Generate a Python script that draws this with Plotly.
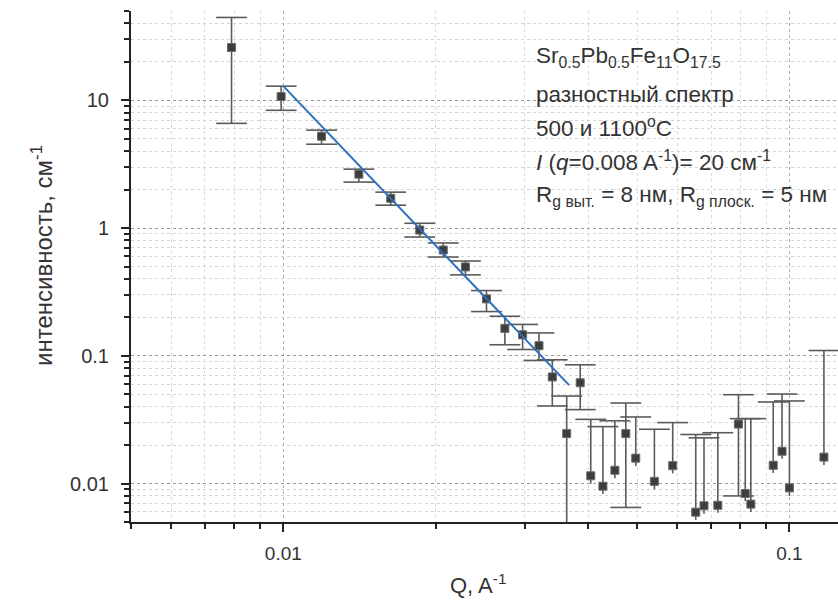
import plotly.graph_objects as go

# SANS data: scattering vector q (1/A), intensity (1/cm), error-bar bounds
q = [0.0079, 0.0099, 0.0119, 0.0141, 0.0163, 0.0186, 0.0207, 0.0229,
     0.0252, 0.0274, 0.0297, 0.0320, 0.0340, 0.0363, 0.0386, 0.0405,
     0.0428, 0.0452, 0.0475, 0.0497, 0.0541, 0.0588, 0.0653, 0.0678,
     0.0722, 0.0793, 0.0818, 0.0839, 0.0929, 0.0967, 0.1000, 0.1170]
intensity = [25.9, 10.7, 5.23, 2.64, 1.71, 0.965, 0.673, 0.496,
             0.279, 0.164, 0.146, 0.120, 0.0683, 0.0246, 0.0615, 0.0115,
             0.00953, 0.0127, 0.0246, 0.0158, 0.0104, 0.0138, 0.00597, 0.0067,
             0.00676, 0.0292, 0.00836, 0.0069, 0.0139, 0.0179, 0.00925, 0.0161]
upper = [44.5, 12.9, 5.84, 2.89, 1.91, 1.09, 0.764, 0.552,
         0.324, 0.204, 0.176, 0.151, 0.093, 0.0484, 0.085, 0.0318,
         0.0279, 0.031, 0.0427, 0.0332, 0.0266, 0.030, 0.0242, 0.0228,
         0.025, 0.0496, 0.0322, 0.0322, 0.0435, 0.0502, 0.0443, 0.110]
# lower bounds; 0 means the bar runs off the bottom of the log axis
lower = [6.6, 8.35, 4.53, 2.29, 1.51, 0.85, 0.593, 0.43,
         0.222, 0.122, 0.112, 0.092, 0.0405, 0.0, 0.0379, 0.0100,
         0.0083, 0.0110, 0.0065, 0.0137, 0.0090, 0.0120, 0.0052, 0.0058,
         0.0059, 0.0080, 0.0073, 0.0060, 0.0121, 0.0156, 0.0080, 0.0140]
# which lower bounds carry a cap
lower_cap = [True] * 13 + [False, True, False, False, False, True] + [False] * 6 + [True] + [False] * 6

# power-law fit segment
q_fit = [0.0100, 0.0367]
i_fit = [12.9, 0.059]

W, H = 838, 603
ML, MR, MT, MB = 131, 0, 11, 81


def px(x):
    return (x - ML) / (W - ML - MR)


def py(y):
    return (H - MB - y) / (H - MT - MB)


err_plus = [u - v for u, v in zip(upper, intensity)]
err_minus = [v - l for v, l in zip(intensity, lower)]

fig = go.Figure()

# error-bar caps
fig.add_trace(go.Scatter(
    x=q + [x for x, c in zip(q, lower_cap) if c],
    y=upper + [l for l, c in zip(lower, lower_cap) if c],
    mode="markers",
    marker=dict(symbol="line-ew", size=22, line=dict(width=1.6, color="#5a5a5a")),
    hoverinfo="skip", showlegend=False,
))

# data points with error lines
fig.add_trace(go.Scatter(
    x=q, y=intensity, mode="markers",
    marker=dict(symbol="square", size=8, color="#3d3d3d",
                line=dict(width=1, color="#6a6a6a")),
    error_y=dict(type="data", symmetric=False, array=err_plus, arrayminus=err_minus,
                 width=0, thickness=1.6, color="#5a5a5a"),
    showlegend=False,
))

# fit line
fig.add_trace(go.Scatter(
    x=q_fit, y=i_fit, mode="lines",
    line=dict(color="#2f6fbf", width=2),
    showlegend=False,
))

FONT = "Liberation Sans, Arial, sans-serif"
TXT = "#333333"

x_minor = [m * 10 ** e for e in (-3, -2, -1) for m in range(2, 10)]
y_minor = [m * 10 ** e for e in (-3, -2, -1, 0, 1) for m in range(2, 10)]

fig.update_xaxes(
    type="log", range=[-2.30103, -0.904],
    tickvals=[0.01, 0.1], ticktext=["0.01", "0.1"],
    ticks="outside", ticklen=8, tickwidth=1.5, tickcolor="#222",
    showline=True, linecolor="#222", linewidth=2, mirror=False,
    showgrid=True, gridcolor="#b0b0b0", griddash="dot", gridwidth=1,
    tickfont=dict(family=FONT, size=19, color=TXT),
    ticklabelstandoff=5,
    minor=dict(tickvals=x_minor, ticks="outside", ticklen=5, tickwidth=1.5,
               tickcolor="#222", showgrid=True, gridcolor="#dadada",
               griddash="dot", gridwidth=1),
    zeroline=False,
)
fig.update_yaxes(
    type="log", range=[-2.30103, 1.69897],
    tickvals=[0.01, 0.1, 1, 10], ticktext=["0.01", "0.1", "1", "10"],
    ticks="outside", ticklen=8, tickwidth=1.5, tickcolor="#222",
    showline=True, linecolor="#222", linewidth=2, mirror=False,
    showgrid=True, gridcolor="#9a9a9a", griddash="dot", gridwidth=1,
    tickfont=dict(family=FONT, size=20, color=TXT),
    ticklabelstandoff=8,
    minor=dict(tickvals=y_minor, ticks="outside", ticklen=5, tickwidth=1.5,
               tickcolor="#222", showgrid=True, gridcolor="#d4d4d4",
               griddash="dot", gridwidth=1),
    zeroline=False,
)

info_lines = [
    ("Sr<sub>0.5</sub>Pb<sub>0.5</sub>Fe<sub>11</sub>O<sub>17.5</sub>", 57),
    ("разностный спектр", 94),
    ("500 и 1100<sup>o</sup>C", 127),
    ("<i>I</i> (<i>q</i>=0.008 A<sup>-1</sup>)= 20 см<sup>-1</sup>", 161),
    ("R<sub>g выт.</sub> = 8 нм, R<sub>g плоск.</sub> = 5 нм", 196),
]
annotations = []
for text, yy in info_lines:
    annotations.append(dict(
        text=text, x=px(534), y=py(yy), xref="paper", yref="paper",
        xanchor="left", yanchor="middle", showarrow=False,
        font=dict(family=FONT, size=22.5, color=TXT),
    ))
annotations.append(dict(
    text="интенсивность, см<sup>-1</sup>", x=px(42), y=py(256),
    xref="paper", yref="paper", xanchor="center", yanchor="middle",
    textangle=-90, showarrow=False, font=dict(family=FONT, size=24, color=TXT),
))
annotations.append(dict(
    text="Q, A<sup>-1</sup>", x=px(478), y=py(584),
    xref="paper", yref="paper", xanchor="center", yanchor="middle",
    showarrow=False, font=dict(family=FONT, size=22, color=TXT),
))

fig.update_layout(
    width=W, height=H,
    margin=dict(l=ML, r=MR, t=MT, b=MB),
    paper_bgcolor="white", plot_bgcolor="white",
    annotations=annotations,
    showlegend=False,
)

fig.write_html("out.html")
